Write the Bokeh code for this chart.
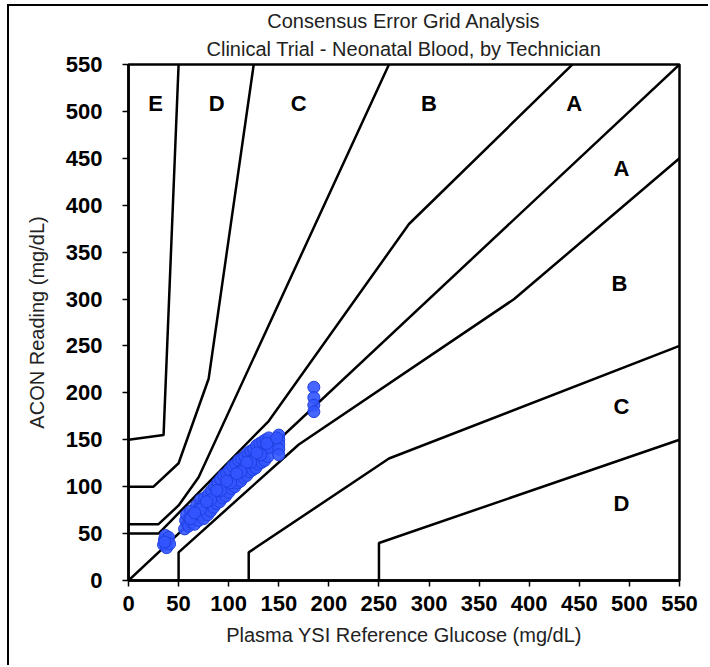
from bokeh.plotting import figure
from bokeh.models import Range1d, Label, FixedTicker, Title
from bokeh.embed import file_html
from bokeh.resources import INLINE

# ---------------- text ----------------
title_line1 = "Consensus Error Grid Analysis"
title_line2 = "Clinical Trial - Neonatal Blood, by Technician"
x_label = "Plasma YSI Reference Glucose (mg/dL)"
y_label = "ACON Reading (mg/dL)"
tick_values = [0, 50, 100, 150, 200, 250, 300, 350, 400, 450, 500, 550]

# ---------------- data ----------------
ref_glucose = [
    35, 36, 37, 38, 39, 40, 41, 36,
    56, 57, 58, 59, 60, 61, 62, 63, 64, 65,
    66, 67, 68, 69, 70, 71, 72, 73, 74, 75,
    76, 77, 78, 79, 80, 81, 82, 83, 84, 85,
    86, 87, 88, 89, 90, 91, 92, 93, 94, 95,
    96, 97, 98, 99, 100, 101, 102, 103, 104, 105,
    106, 107, 108, 109, 110, 111, 112, 113, 114, 115,
    116, 117, 118, 119, 120, 121, 122, 123, 124, 125,
    126, 127, 128, 129, 130, 131, 132, 133, 134, 135,
    136, 137, 138, 139, 140, 141,
    62, 72, 82, 92, 102, 112, 122, 132,
    66, 78, 88, 98, 108, 118, 128, 138,
    150, 150, 150, 150, 150, 148,
    185, 185, 185, 185,
]
acon_reading = [
    38, 44, 48, 35, 42, 46, 39, 41,
    55, 64, 70, 60, 58, 66, 74, 62, 70, 68,
    60, 72, 80, 72, 64, 78, 86, 70, 80, 66,
    88, 76, 84, 70, 92, 80, 74, 96, 84, 78,
    100, 88, 82, 104, 92, 84, 108, 96, 88, 112,
    98, 90, 114, 102, 94, 118, 106, 98, 122, 108,
    100, 124, 112, 104, 128, 116, 106, 130, 118, 110,
    132, 122, 112, 136, 124, 116, 138, 128, 118, 140,
    130, 120, 144, 132, 124, 146, 134, 126, 148, 138,
    128, 150, 140, 132, 152, 142,
    66, 76, 86, 96, 104, 116, 126, 134,
    72, 84, 96, 106, 114, 126, 136, 146,
    155, 150, 145, 140, 134, 152,
    206, 195, 187, 180,
]

# ---------------- zone boundaries (consensus grid) ----------------
identity_x = [0, 550]
identity_y = [0, 550]
upper_a_x = [0, 30, 140, 280, 5000]
upper_a_y = [50, 50, 170, 380, 5300]
lower_a_x = [50, 50, 170, 385, 550]
lower_a_y = [0, 30, 145, 300, 450]
upper_b_x = [0, 30, 50, 70, 260]
upper_b_y = [60, 60, 80, 110, 550]
lower_b_x = [120, 120, 260, 550]
lower_b_y = [0, 30, 130, 250]
upper_c_x = [0, 25, 50, 80, 125]
upper_c_y = [100, 100, 125, 215, 550]
lower_c_x = [250, 250, 550]
lower_c_y = [0, 40, 150]
upper_d_x = [0, 35, 50]
upper_d_y = [150, 155, 550]

zone_names = ["E", "D", "C", "B", "A", "A", "B", "C", "D"]
zone_pos_x = [27, 88, 170, 300, 445, 492, 490, 492, 492]
zone_pos_y = [508, 508, 508, 508, 508, 439, 317, 185, 82]

FONT = "Liberation Sans"

p = figure(width=701, height=661,
           x_range=Range1d(0, 550), y_range=Range1d(0, 550),
           output_backend="svg", toolbar_location=None,
           min_border_left=119, min_border_right=31,
           min_border_top=58, min_border_bottom=87,
           background_fill_color="white", border_fill_color="white",
           styles={"margin-left": "7px", "margin-top": "4px",
                   "border-left": "2px solid black", "border-top": "2px solid black"})

p.title.visible = False
p.outline_line_color = "black"
p.outline_line_width = 2.5
p.xgrid.visible = False
p.ygrid.visible = False

for ax in (p.xaxis[0], p.yaxis[0]):
    ax.ticker = FixedTicker(ticks=tick_values, minor_ticks=[])
    ax.axis_line_color = "black"
    ax.axis_line_width = 2.5
    ax.major_tick_in = 0
    ax.major_tick_out = 6
    ax.major_tick_line_color = "black"
    ax.major_tick_line_width = 1.5
    ax.minor_tick_line_color = None
    ax.major_label_text_font = FONT
    ax.major_label_text_font_style = "bold"
    ax.major_label_text_font_size = "22px"
    ax.major_label_text_color = "black"
    ax.axis_label_text_font = FONT
    ax.axis_label_text_font_style = "normal"
    ax.axis_label_text_font_size = "20px"
    ax.axis_label_text_color = "#222222"

p.xaxis.axis_label = x_label
p.yaxis.axis_label = y_label
p.xaxis.major_label_standoff = 9
p.xaxis.axis_label_standoff = 10
p.yaxis.major_label_standoff = 20
p.yaxis.axis_label_standoff = 15

# two-line title: the first added sits closest to the frame
p.add_layout(Title(text=title_line2, align="center", text_font=FONT, text_font_size="20px",
                   text_font_style="normal", text_color="#222222", standoff=9), "above")
p.add_layout(Title(text=title_line1, align="center", text_font=FONT, text_font_size="20px",
                   text_font_style="normal", text_color="#222222", standoff=0), "above")

# grid lines
for xs, ys in [(identity_x, identity_y), (upper_a_x, upper_a_y), (lower_a_x, lower_a_y),
               (upper_b_x, upper_b_y), (lower_b_x, lower_b_y), (upper_c_x, upper_c_y),
               (lower_c_x, lower_c_y), (upper_d_x, upper_d_y)]:
    p.line(xs, ys, line_color="black", line_width=2.5)

# data points
p.scatter(ref_glucose, acon_reading, size=12, marker="circle",
          fill_color="#3355ff", fill_alpha=0.9, line_color="#1f3fe0", line_width=1)

# zone letters
for name, zx, zy in zip(zone_names, zone_pos_x, zone_pos_y):
    p.add_layout(Label(x=zx, y=zy, text=name, text_align="center", text_baseline="middle",
                       text_font=FONT, text_font_style="bold", text_font_size="22px",
                       text_color="black"))

open("out.html", "w").write(file_html(p, INLINE))
